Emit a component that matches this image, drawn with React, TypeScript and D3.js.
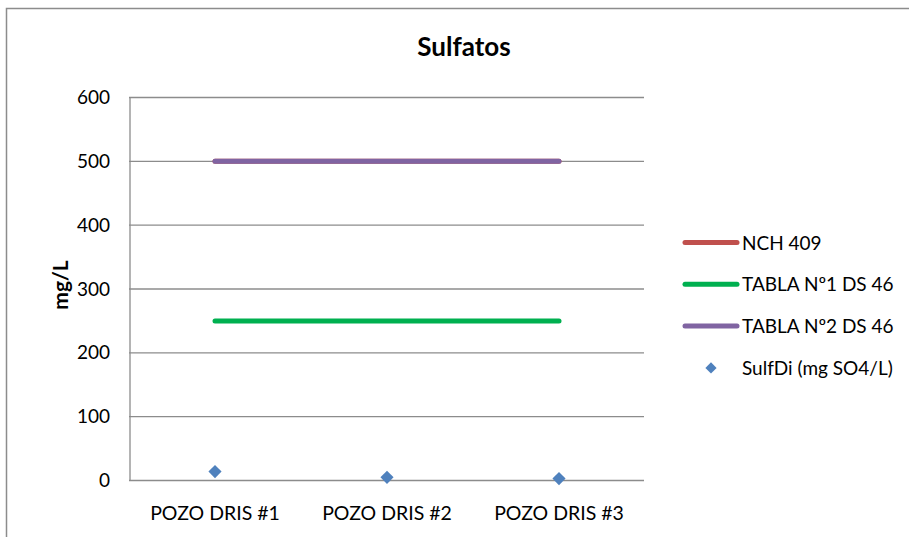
import React from "react";
import * as d3 from "d3";

const categories = ["POZO DRIS #1", "POZO DRIS #2", "POZO DRIS #3"];
const nch409 = [500, 500, 500];
const tabla1 = [250, 250, 250];
const tabla2 = [500, 500, 500];
const sulfDi = [14, 5, 3];
const yTicks = [0, 100, 200, 300, 400, 500, 600];
const seriesNames = ["NCH 409", "TABLA Nº1 DS 46", "TABLA Nº2 DS 46", "SulfDi (mg SO4/L)"];
const colors = ["#C0504D", "#00B050", "#8064A2", "#4F81BD"];

export default function App() {
  const W = 909, H = 537;
  const x = d3.scaleBand().domain(categories).range([129, 645]);
  const y = d3.scaleLinear().domain([0, 600]).range([480.5, 97.5]);
  const cx = (c: string) => (x(c) as number) + x.bandwidth() / 2;
  const line = d3.line<number>().x((_, i) => cx(categories[i])).y((v) => y(v));
  const font = "Lato, 'Open Sans', sans-serif";
  const lines = [nch409, tabla1, tabla2];
  const diamond = d3.symbol().type(d3.symbolDiamond2).size(110);
  return (
    <svg width={W} height={H} style={{ position: "absolute", left: 0, top: 0, background: "#fff" }} fontFamily={font}>
      <rect x={6.5} y={8.5} width={W + 20} height={H + 20} fill="#fff" stroke="#8c8c8c" strokeWidth={1.5} />
      <text x={464} y={56} textAnchor="middle" fontSize={26} fontWeight="bold" fill="#000">Sulfatos</text>
      {yTicks.map((t) => (
        <g key={t}>
          <line x1={129} x2={644} y1={y(t)} y2={y(t)} stroke="#8c8c8c" strokeWidth={1.3} />
          <text x={110} y={y(t) + 6.5} textAnchor="end" fontSize={19} fill="#000">{t}</text>
        </g>
      ))}
      <line x1={130} x2={130} y1={97} y2={481} stroke="#8c8c8c" strokeWidth={1.3} />
      {categories.map((c) => (
        <text key={c} x={cx(c)} y={520} textAnchor="middle" fontSize={19.5} fill="#000">{c}</text>
      ))}
      <text transform="translate(68,285) rotate(-90)" textAnchor="middle" fontSize={21} fontWeight="bold" fill="#000">mg/L</text>
      {lines.map((d, i) => (
        <path key={i} d={line(d) as string} fill="none" stroke={colors[i]} strokeWidth={5} strokeLinecap="round" />
      ))}
      {sulfDi.map((v, i) => (
        <path key={i} d={diamond() as string} transform={`translate(${cx(categories[i])},${y(v)})`} fill={colors[3]} />
      ))}
      {seriesNames.map((n, i) => {
        const ly = 242.5 + i * 41.8;
        return (
          <g key={n}>
            {i < 3 ? (
              <line x1={685} x2={737} y1={ly} y2={ly} stroke={colors[i]} strokeWidth={5} strokeLinecap="round" />
            ) : (
              <path d={d3.symbol().type(d3.symbolDiamond2).size(80)() as string} transform={`translate(711,${ly})`} fill={colors[3]} />
            )}
            <text x={742} y={ly + 7} fontSize={19} fill="#000">{n}</text>
          </g>
        );
      })}
    </svg>
  );
}
